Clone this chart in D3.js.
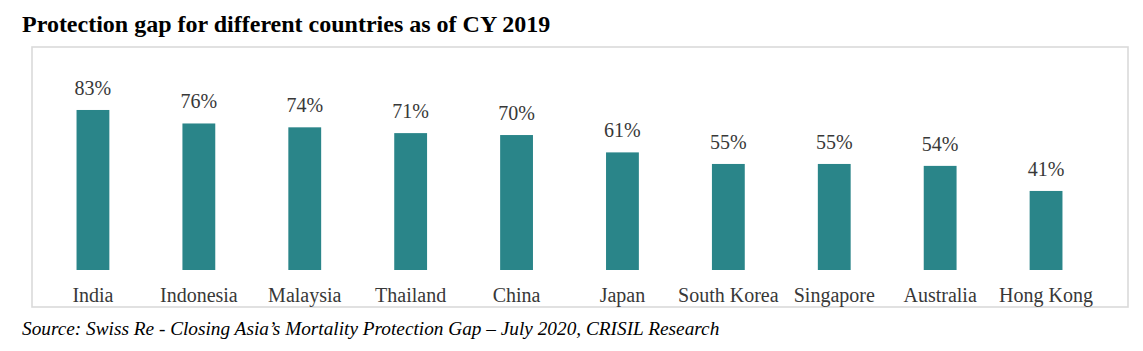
<!DOCTYPE html>
<html>
<head>
<meta charset="utf-8">
<script src="https://cdn.jsdelivr.net/npm/d3@7"></script>
<style>
  body { margin: 0; background: #fff; }
  text { font-family: "Liberation Serif", "Times New Roman", serif; }
</style>
</head>
<body>
<svg id="chart"></svg>
<script>
// Protection gap (%) by country, CY 2019
const countries = ['India', 'Indonesia', 'Malaysia', 'Thailand', 'China', 'Japan',
  'South Korea', 'Singapore', 'Australia', 'Hong Kong'];
const gapValues = [83, 76, 74, 71, 70, 61, 55, 55, 54, 41];

const titleText = 'Protection gap for different countries as of CY 2019';
const sourceText = 'Source: Swiss Re - Closing Asia\u2019s Mortality Protection Gap \u2013 July 2020, CRISIL Research';

const config = {
  width: 1143,
  height: 351,
  box: { x: 32, y: 47, w: 1096, h: 260 },
  baseline: 270,
  barColor: '#2a8589',
};

const data = countries.map((c, i) => ({ country: c, value: gapValues[i] }));

const svg = d3.select('#chart')
  .attr('width', config.width)
  .attr('height', config.height);

// Title
svg.append('text')
  .attr('x', 22)
  .attr('y', 32)
  .attr('font-size', 24)
  .attr('font-weight', 'bold')
  .attr('fill', '#000')
  .text(titleText);

// Chart border
svg.append('rect')
  .attr('x', config.box.x)
  .attr('y', config.box.y)
  .attr('width', config.box.w)
  .attr('height', config.box.h)
  .attr('fill', 'none')
  .attr('stroke', '#dadada')
  .attr('stroke-width', 1.6);

const xScale = d3.scaleBand()
  .domain(countries)
  .range([40, 1099])
  .paddingInner(0.69)
  .paddingOuter(0.345);

const yScale = d3.scaleLinear()
  .domain([0, 100])
  .range([config.baseline, config.baseline - 192.8]);

const marks = svg.append('g');

marks.selectAll('.bar')
  .data(data)
  .join('rect')
  .attr('class', 'bar')
  .attr('x', (d) => xScale(d.country))
  .attr('y', (d) => yScale(d.value))
  .attr('width', xScale.bandwidth())
  .attr('height', (d) => yScale(0) - yScale(d.value))
  .attr('fill', config.barColor);

marks.selectAll('.value-label')
  .data(data)
  .join('text')
  .attr('class', 'value-label')
  .attr('x', (d) => xScale(d.country) + xScale.bandwidth() / 2)
  .attr('y', (d) => yScale(d.value) - 15)
  .attr('text-anchor', 'middle')
  .attr('font-size', 20)
  .attr('fill', '#383838')
  .text((d) => `${d.value}%`);

// Category axis, no line or ticks
const xAxis = d3.axisBottom(xScale).tickSize(0).tickPadding(0);
const xAxisG = svg.append('g')
  .attr('transform', `translate(0,${config.baseline})`)
  .call(xAxis);
xAxisG.select('.domain').remove();
xAxisG.selectAll('text')
  .attr('y', 32)
  .attr('dy', null)
  .attr('font-size', 20)
  .attr('font-family', '"Liberation Serif", "Times New Roman", serif')
  .attr('fill', '#383838');

// Source note
svg.append('text')
  .attr('x', 22)
  .attr('y', 335)
  .attr('font-size', 19.3)
  .attr('font-style', 'italic')
  .attr('fill', '#000')
  .text(sourceText);
</script>
</body>
</html>
